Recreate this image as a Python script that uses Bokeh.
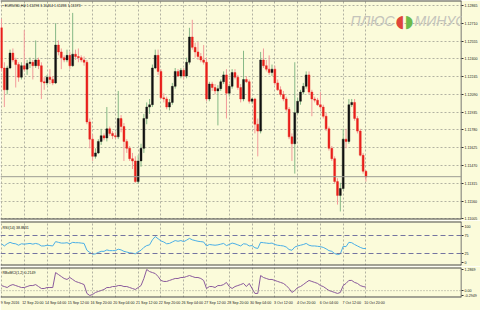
from bokeh.plotting import figure
from bokeh.layouts import column
from bokeh.models import Range1d, FixedTicker, Span, Label, ColumnDataSource, PrintfTickFormatter
from bokeh.embed import file_html
from bokeh.resources import INLINE

# ---------------- data (EURUSD, H4) ----------------
OPEN = [1.1267, 1.1232, 1.1213, 1.1232, 1.1245, 1.1239, 1.1235, 1.1224, 1.1234, 1.1231,
        1.1236, 1.1237, 1.1234, 1.1239, 1.1234, 1.1220, 1.1219, 1.1224, 1.1222, 1.1219,
        1.1252, 1.1246, 1.1241, 1.1239, 1.1243, 1.1234, 1.1244, 1.1242, 1.1241, 1.1239,
        1.1237, 1.1185, 1.1170, 1.1155, 1.1158, 1.1168, 1.1173, 1.1171, 1.1179, 1.1175,
        1.1173, 1.1172, 1.1188, 1.1181, 1.1168, 1.1162, 1.1153, 1.1151, 1.1133, 1.1151,
        1.1162, 1.1188, 1.1198, 1.1200, 1.1232, 1.1243, 1.1229, 1.1206, 1.1205, 1.1198,
        1.1202, 1.1216, 1.1229, 1.1225, 1.1230, 1.1225, 1.1237, 1.1259, 1.1250, 1.1246,
        1.1242, 1.1239, 1.1237, 1.1205, 1.1218, 1.1215, 1.1212, 1.1214, 1.1220, 1.1226,
        1.1210, 1.1216, 1.1228, 1.1224, 1.1215, 1.1205, 1.1222, 1.1220, 1.1203, 1.1205,
        1.1183, 1.1177, 1.1239, 1.1234, 1.1231, 1.1228, 1.1231, 1.1219, 1.1213, 1.1209,
        1.1205, 1.1196, 1.1172, 1.1166, 1.1193, 1.1203, 1.1211, 1.1216, 1.1226, 1.1211,
        1.1205, 1.1204, 1.1200, 1.1198, 1.1190, 1.1179, 1.1162, 1.1153, 1.1133, 1.1121,
        1.1127, 1.1170, 1.1168, 1.1200, 1.1202, 1.1188, 1.1177, 1.1156, 1.1142]
HIGH = [1.1275, 1.1237, 1.1234, 1.1248, 1.1249, 1.1241, 1.1237, 1.1237, 1.1265, 1.1239,
        1.1241, 1.1239, 1.1256, 1.1241, 1.1237, 1.1224, 1.1226, 1.1231, 1.1225, 1.1271,
        1.1256, 1.1249, 1.1243, 1.1248, 1.1246, 1.1280, 1.1248, 1.1249, 1.1243, 1.1242,
        1.1239, 1.1188, 1.1174, 1.1162, 1.1170, 1.1179, 1.1175, 1.1198, 1.1181, 1.1177,
        1.1176, 1.1212, 1.1191, 1.1184, 1.1170, 1.1164, 1.1158, 1.1155, 1.1156, 1.1166,
        1.1192, 1.1202, 1.1205, 1.1235, 1.1248, 1.1248, 1.1231, 1.1210, 1.1207, 1.1205,
        1.1219, 1.1232, 1.1231, 1.1232, 1.1232, 1.1241, 1.1267, 1.1274, 1.1254, 1.1255,
        1.1245, 1.1252, 1.1241, 1.1220, 1.1220, 1.1218, 1.1217, 1.1222, 1.1229, 1.1231,
        1.1218, 1.1231, 1.1231, 1.1226, 1.1218, 1.1247, 1.1225, 1.1222, 1.1206, 1.1206,
        1.1188, 1.1246, 1.1249, 1.1239, 1.1243, 1.1235, 1.1234, 1.1222, 1.1216, 1.1212,
        1.1207, 1.1198, 1.1175, 1.1237, 1.1206, 1.1213, 1.1219, 1.1229, 1.1229, 1.1213,
        1.1207, 1.1206, 1.1211, 1.1200, 1.1193, 1.1181, 1.1164, 1.1155, 1.1136, 1.1132,
        1.1179, 1.1179, 1.1205, 1.1205, 1.1205, 1.1190, 1.1179, 1.1158, 1.1143]
LOW = [1.1229, 1.1198, 1.1209, 1.1231, 1.1237, 1.1215, 1.1220, 1.1222, 1.1229, 1.1226,
       1.1232, 1.1222, 1.1232, 1.1231, 1.1205, 1.1213, 1.1217, 1.1218, 1.1217, 1.1218,
       1.1243, 1.1231, 1.1237, 1.1237, 1.1231, 1.1233, 1.1239, 1.1237, 1.1237, 1.1234,
       1.1183, 1.1162, 1.1151, 1.1153, 1.1157, 1.1165, 1.1169, 1.1168, 1.1173, 1.1170,
       1.1170, 1.1170, 1.1176, 1.1151, 1.1158, 1.1151, 1.1144, 1.1132, 1.1131, 1.1146,
       1.1158, 1.1183, 1.1192, 1.1198, 1.1231, 1.1226, 1.1205, 1.1202, 1.1196, 1.1195,
       1.1200, 1.1214, 1.1224, 1.1223, 1.1222, 1.1223, 1.1235, 1.1248, 1.1241, 1.1239,
       1.1237, 1.1235, 1.1203, 1.1203, 1.1212, 1.1209, 1.1182, 1.1212, 1.1218, 1.1188,
       1.1207, 1.1214, 1.1222, 1.1213, 1.1202, 1.1203, 1.1219, 1.1201, 1.1201, 1.1175,
       1.1155, 1.1175, 1.1232, 1.1229, 1.1226, 1.1225, 1.1217, 1.1212, 1.1207, 1.1203,
       1.1194, 1.1170, 1.1151, 1.1140, 1.1192, 1.1200, 1.1209, 1.1214, 1.1209, 1.1190,
       1.1202, 1.1199, 1.1196, 1.1188, 1.1177, 1.1160, 1.1151, 1.1131, 1.1113, 1.1107,
       1.1126, 1.1162, 1.1166, 1.1198, 1.1186, 1.1175, 1.1155, 1.1140, 1.1133]
CLOSE = [1.1232, 1.1213, 1.1232, 1.1245, 1.1239, 1.1235, 1.1224, 1.1234, 1.1231, 1.1236,
         1.1237, 1.1234, 1.1239, 1.1234, 1.1220, 1.1219, 1.1224, 1.1222, 1.1219, 1.1252,
         1.1246, 1.1241, 1.1239, 1.1243, 1.1234, 1.1244, 1.1242, 1.1241, 1.1239, 1.1237,
         1.1185, 1.1170, 1.1155, 1.1158, 1.1168, 1.1173, 1.1171, 1.1179, 1.1175, 1.1173,
         1.1172, 1.1188, 1.1181, 1.1168, 1.1162, 1.1153, 1.1151, 1.1133, 1.1151, 1.1162,
         1.1188, 1.1198, 1.1200, 1.1232, 1.1243, 1.1229, 1.1206, 1.1205, 1.1198, 1.1202,
         1.1216, 1.1229, 1.1225, 1.1230, 1.1225, 1.1237, 1.1259, 1.1250, 1.1246, 1.1242,
         1.1239, 1.1237, 1.1205, 1.1218, 1.1215, 1.1212, 1.1214, 1.1220, 1.1226, 1.1210,
         1.1216, 1.1228, 1.1224, 1.1215, 1.1205, 1.1222, 1.1220, 1.1203, 1.1205, 1.1183,
         1.1177, 1.1239, 1.1234, 1.1231, 1.1228, 1.1231, 1.1219, 1.1213, 1.1209, 1.1205,
         1.1196, 1.1172, 1.1166, 1.1193, 1.1203, 1.1211, 1.1216, 1.1226, 1.1211, 1.1205,
         1.1204, 1.1200, 1.1198, 1.1190, 1.1179, 1.1162, 1.1153, 1.1133, 1.1121, 1.1127,
         1.1170, 1.1168, 1.1200, 1.1202, 1.1188, 1.1177, 1.1156, 1.1142, 1.1137]
RSI = [52, 46, 52, 56, 53, 52, 48, 52, 51, 52, 53, 51, 53, 51, 46, 46, 48, 47, 46, 58,
       56, 54, 54, 55, 52, 56, 55, 55, 54, 53, 34, 28, 23, 24, 28, 31, 31, 35, 33, 33,
       33, 37, 35, 31, 29, 27, 26, 24, 30, 34, 42, 47, 49, 63, 72, 66, 60, 57, 52, 53,
       57, 61, 59, 61, 58, 62, 67, 63, 61, 59, 58, 57, 46, 50, 49, 48, 49, 51, 53, 47,
       50, 54, 52, 49, 46, 52, 51, 46, 47, 41, 39, 56, 55, 54, 53, 54, 50, 48, 47, 46,
       43, 36, 34, 43, 46, 48, 50, 53, 48, 46, 46, 45, 44, 42, 38, 33, 31, 25, 22, 24,
       45, 44, 56, 55, 50, 46, 42, 39, 38.8831]
OSC = [0.31, 0.25, 0.19, 0.31, 0.37, 0.31, 0.25, 0.19, 0.19, 0.25,
       0.31, 0.31, 0.37, 0.25, 0.13, 0.13, 0.19, 0.19, 0.19, 1.10,
       0.98, 0.86, 0.74, 0.68, 0.80, 0.68, 0.56, 0.50, 0.44, 0.37,
       -0.17, -0.2949, -0.23, -0.11, -0.05, 0.01, 0.07, 0.19, 0.19, 0.25,
       0.25, 0.31, 0.31, 0.25, 0.25, 0.19, 0.13, 0.07, 0.19, 0.31,
       0.74, 1.2869, 1.16, 1.10, 1.04, 0.86, 0.62, 0.56, 0.56, 0.62,
       0.68, 0.74, 0.74, 0.80, 0.80, 0.86, 0.92, 0.86, 0.80, 0.80,
       0.74, 0.62, 0.13, 0.25, 0.25, 0.19, 0.31, 0.31, 0.37, 0.50,
       0.25, 0.13, 0.25, 0.31, 0.37, 0.44, 0.25, 0.44, 0.13, -0.17,
       -0.17, 0.92, 0.80, 0.74, 0.68, 0.68, 0.62, 0.56, 0.50, 0.44,
       0.31, 0.13, -0.11, 0.01, 0.19, 0.25, 0.37, 0.50, 0.62, 0.56,
       0.50, 0.44, 0.31, 0.25, 0.13, 0.01, -0.05, -0.11, -0.17, -0.11,
       0.31, 0.44, 0.62, 0.62, 0.50, 0.44, 0.31, 0.25, 0.2149]
PRICE_TICKS = [1.12865, 1.12710, 1.12555, 1.12400, 1.12245, 1.12090, 1.11935,
               1.11780, 1.11625, 1.11470, 1.11315, 1.11160, 1.11005]
LAST_PRICE = 1.11373
RSI_TICKS = [0, 25, 75, 100]
RSI_LEVELS = [75, 25]
OSC_TICKS = [-0.2949, 0, 1.2869]
OSC_TICK_LABELS = ["-0.2949", "0.00", "1.2869"]
DATE_IDX = [0, 8, 16, 24, 32, 40, 48, 56, 64, 72, 80, 88, 96, 104, 112, 120, 128]
DATE_LABELS = ["9 Sep 2016", "12 Sep 20:00", "14 Sep 04:00", "15 Sep 12:00", "16 Sep 20:00",
               "20 Sep 04:00", "21 Sep 12:00", "22 Sep 20:00", "26 Sep 04:00", "27 Sep 12:00",
               "28 Sep 20:00", "30 Sep 04:00", "3 Oct 12:00", "4 Oct 20:00", "6 Oct 04:00",
               "7 Oct 12:00", "10 Oct 20:00"]
TITLE = "\u25aa EURUSD,H4 1.11293 1.11414 1.11281 1.11373"
RSI_TITLE = "RSI(14) 38.8831"
OSC_TITLE = "RBoMCI(1,2) 0.2149"

# ---------------- style ----------------
BG = "#FBFBDA"
GRID = "#B2B2A2"
SEP = "#4A4A4A"
FONT = "Liberation Sans"
FS = "3.6px"
W = 480
RIGHT = 17

IDX = list(range(len(CLOSE)))
xr = Range1d(-0.35, 161.55)


def make_fig(h, yr, top, bottom, xaxis):
    p = figure(width=W, height=h, x_range=xr, y_range=yr,
               x_axis_location="below" if xaxis else None, y_axis_location="right",
               toolbar_location=None, output_backend="svg",
               min_border_left=0, min_border_right=RIGHT,
               min_border_top=top, min_border_bottom=bottom)
    p.background_fill_color = BG
    p.border_fill_color = BG
    p.outline_line_color = None
    p.xgrid.ticker = FixedTicker(ticks=DATE_IDX)
    p.xgrid.grid_line_color = GRID
    p.xgrid.grid_line_dash = "2 2"
    p.xgrid.grid_line_width = 1
    ax = p.yaxis[0]
    ax.axis_line_color = None
    ax.major_tick_line_color = "#303030"
    ax.major_tick_out = 2
    ax.major_tick_in = 0
    ax.minor_tick_line_color = None
    ax.major_label_text_font = FONT
    ax.major_label_text_font_size = FS
    ax.major_label_text_color = "#202020"
    ax.major_label_standoff = 1
    # separators / right border
    p.add_layout(Span(location=yr.start, dimension="width", line_color=SEP, line_width=2))
    p.add_layout(Span(location=yr.end, dimension="width", line_color=SEP, line_width=2))
    p.add_layout(Span(location=xr.end, dimension="height", line_color=SEP, line_width=1.5))
    return p


# ---------------- main price panel ----------------
p1 = make_fig(220, Range1d(1.11000, 1.12908), 0, 1, False)
p1.yaxis[0].ticker = FixedTicker(ticks=PRICE_TICKS)
p1.yaxis[0].formatter = PrintfTickFormatter(format="%.5f")
p1.ygrid.ticker = FixedTicker(ticks=PRICE_TICKS)
p1.ygrid.grid_line_color = GRID
p1.ygrid.grid_line_dash = "2 2"

up = [c >= o for o, c in zip(OPEN, CLOSE)]
src = ColumnDataSource(dict(
    i=IDX, o=OPEN, h=HIGH, l=LOW, c=CLOSE,
    top=[max(o, c) for o, c in zip(OPEN, CLOSE)],
    bot=[min(o, c) for o, c in zip(OPEN, CLOSE)],
    body=["#111111" if u else "#E8201C" for u in up],
    wick=["#86B886" if u else "#F29A9A" for u in up],
))
p1.add_layout(Span(location=LAST_PRICE, dimension="width", line_color="#9C9C94", line_width=1))
p1.segment(x0="i", y0="l", x1="i", y1="h", color="wick", line_width=1, source=src)
p1.vbar(x="i", width=0.68, top="top", bottom="bot", fill_color="body",
        line_color="body", line_width=0.4, source=src)

p1.add_layout(Label(x=2, y=214, x_units="screen", y_units="screen", text=TITLE,
                    text_font=FONT, text_font_size=FS, text_color="#101010",
                    text_baseline="middle"))
p1.add_layout(Label(x=464, y=LAST_PRICE, x_units="screen", y_units="data", text="1.11373",
                    text_font=FONT, text_font_size=FS, text_color="white",
                    background_fill_color="black", text_baseline="middle"))
# watermark logo
p1.add_layout(Label(x=394, y=199, x_units="screen", y_units="screen", text="ПЛЮС",
                    text_font=FONT, text_font_size="14px", text_color="#C4C4BC",
                    text_align="right", text_baseline="middle", text_font_style="italic"))
p1.add_layout(Label(x=404, y=199, x_units="screen", y_units="screen", text="\u25d6",
                    text_font="DejaVu Sans", text_font_size="17px", text_color="#E0453A",
                    text_align="right", text_baseline="middle"))
p1.add_layout(Label(x=404, y=199, x_units="screen", y_units="screen", text="\u25d7",
                    text_font="DejaVu Sans", text_font_size="17px", text_color="#6DBB4A",
                    text_align="left", text_baseline="middle"))
p1.add_layout(Label(x=414, y=199, x_units="screen", y_units="screen", text="МИНУС",
                    text_font=FONT, text_font_size="14px", text_color="#C4C4BC",
                    text_align="left", text_baseline="middle", text_font_style="italic"))

# ---------------- RSI panel ----------------
p2 = make_fig(46, Range1d(-8.3, 113.9), 1, 1, False)
p2.yaxis[0].ticker = FixedTicker(ticks=RSI_TICKS)
p2.ygrid.grid_line_color = None
for lv in RSI_LEVELS:
    p2.add_layout(Span(location=lv, dimension="width", line_color="#7474A0",
                       line_dash="5 3", line_width=1.2))
p2.line(IDX, RSI, line_color="#4AAEE6", line_width=1)
p2.add_layout(Label(x=2, y=38, x_units="screen", y_units="screen", text=RSI_TITLE,
                    text_font=FONT, text_font_size=FS, text_color="#101010",
                    text_baseline="middle"))

# ---------------- oscillator panel ----------------
p3 = make_fig(44, Range1d(-0.4165, 1.4075), 1, 13, True)
p3.yaxis[0].ticker = FixedTicker(ticks=OSC_TICKS)
p3.yaxis[0].major_label_overrides = {t: s for t, s in zip(OSC_TICKS, OSC_TICK_LABELS)}
p3.ygrid.grid_line_color = None
p3.add_layout(Span(location=0, dimension="width", line_color="#9A9A90",
                   line_dash="1 2", line_width=1))
p3.line(IDX, OSC, line_color="#8A5A9C", line_width=1)
p3.add_layout(Label(x=2, y=25, x_units="screen", y_units="screen", text=OSC_TITLE,
                    text_font=FONT, text_font_size=FS, text_color="#101010",
                    text_baseline="middle"))
xa = p3.xaxis[0]
xa.ticker = FixedTicker(ticks=[i + 3 for i in DATE_IDX])
xa.major_label_overrides = {i + 3: s for i, s in zip(DATE_IDX, DATE_LABELS)}
xa.axis_line_color = None
xa.major_tick_line_color = None
xa.major_tick_out = 0
xa.minor_tick_line_color = None
xa.major_label_standoff = 3
xa.major_label_text_font = FONT
xa.major_label_text_font_size = FS
xa.major_label_text_color = "#202020"

layout = column(p1, p2, p3, spacing=0)
open("out.html", "w").write(file_html(layout, INLINE))
